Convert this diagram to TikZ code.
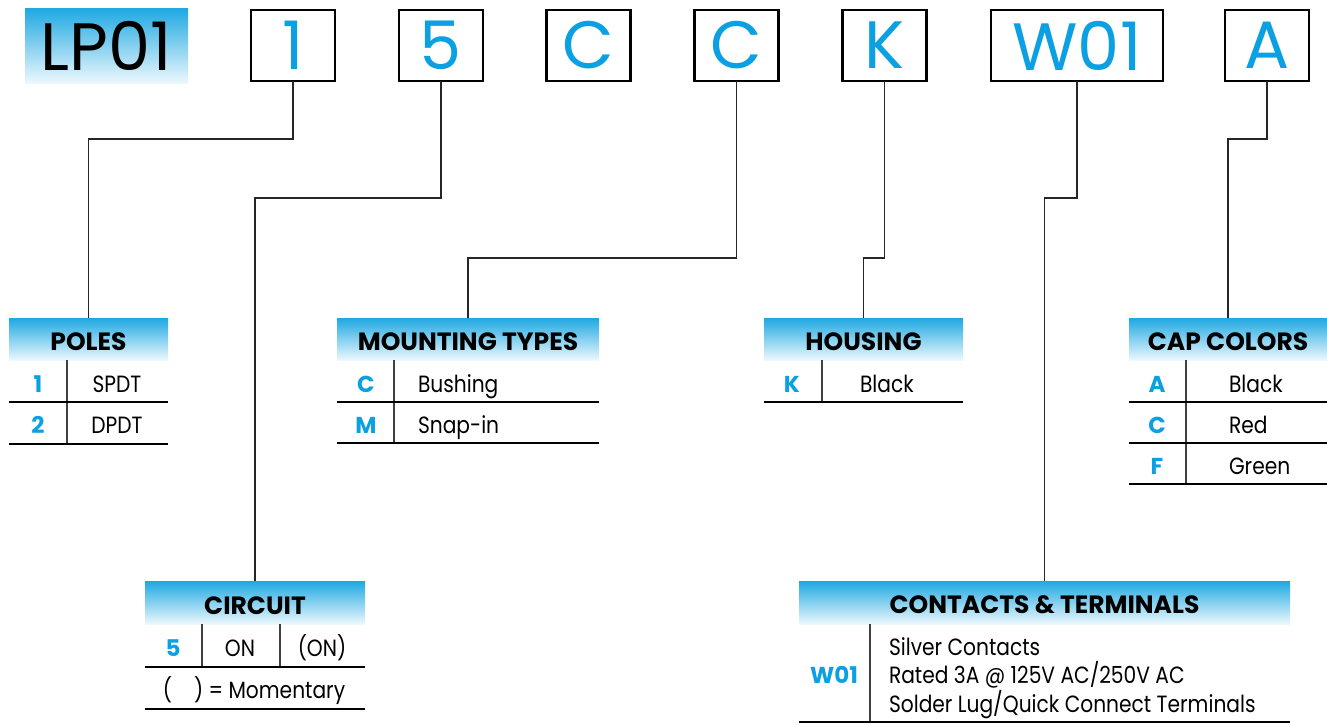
\documentclass[tikz,border=0pt]{standalone}
\usepackage{fontspec}
\setmainfont{Poppins}[FakeStretch=0.86,BoldFeatures={FakeStretch=1.0}]
\newfontfamily\bigfont{Poppins}
\usetikzlibrary{positioning}
\definecolor{pnblue}{RGB}{10,160,225}
\definecolor{hdtop}{RGB}{30,168,226}
\definecolor{hdbot}{RGB}{236,248,253}

\begin{document}
\begin{tikzpicture}
[x=1pt,y=-1pt,
 every node/.style={inner sep=0pt,outer sep=0pt},
 lead/.style={top color=hdtop,bottom color=hdbot,minimum width=163pt,minimum height=75pt,font=\bigfont\fontsize{67}{67}\selectfont},
 part/.style={draw=black,line width=2.5pt,minimum width=84pt,minimum height=71pt,text=pnblue,font=\bigfont\fontsize{67}{67}\selectfont},
 hdr/.style={top color=hdtop,bottom color=hdbot,minimum height=42pt,font=\fontsize{25}{25}\selectfont\bfseries},
 hdrtext/.style={anchor=base,font=\fontsize{25}{25}\selectfont\bfseries},
 code/.style={anchor=base,text=pnblue,font=\fontsize{23}{23}\selectfont\bfseries},
 val/.style={anchor=base,font=\fontsize{23.5}{23.5}\selectfont},
 lval/.style={val,anchor=base west},
 conn/.style={draw=black!85,line width=1.3pt},
 rule/.style={line width=1.5pt},
 sep/.style={line width=1.5pt,black!75}]
\useasboundingbox (0,0) rectangle (1327,724);

% part number boxes
\node[lead] (lp)  at (106.5,45.5) {LP01};
\node[part] (p1)  at (293,45.5)   {1};
\node[part] (p5)  at (441,45.5)   {5};
\node[part] (pC1) at (588.5,45.5) {C};
\node[part] (pC2) at (736.5,45.5) {C};
\node[part] (pK)  at (884.5,45.5) {K};
\node[part,minimum width=172pt] (pW) at (1077,45.5) {W01};
\node[part] (pA)  at (1267,45.5)  {A};

% table headers
\node[hdr,minimum width=159pt] (hPoles) at (88.5,339)  {};
\node[hdr,minimum width=262pt] (hMount) at (468,339)   {};
\node[hdr,minimum width=199pt] (hHous)  at (863.5,339) {};
\node[hdr,minimum width=198pt] (hCap)   at (1228,339)  {};
\node[hdr,minimum width=220pt,minimum height=43pt] (hCirc) at (255,602.5)    {};
\node[hdr,minimum width=491pt,minimum height=43pt] (hCont) at (1044.5,602.5) {};
\node[hdrtext] (tPoles) at (88.5,350)   {POLES};
\node[hdrtext] (tMount) at (468,350)    {MOUNTING TYPES};
\node[hdrtext] (tHous)  at (863.5,350)  {HOUSING};
\node[hdrtext] (tCap)   at (1228,350)   {CAP COLORS};
\node[hdrtext] (tCirc)  at (255,614)    {CIRCUIT};
\node[hdrtext] (tCont)  at (1044.5,613) {CONTACTS \& TERMINALS};

% leaders
\draw[conn] (p1.south)  -- ++(0,58)  -| (hPoles.north);
\draw[conn] (p5.south)  -- ++(0,117) -| (hCirc.north);
\draw[conn] (pC2.south) -- ++(0,177) -| (hMount.north);
\draw[conn] (pK.south)  -- ++(0,177) -| (hHous.north);
\draw[conn] (pW.south)  -- ++(0,117) -| (hCont.north);
\draw[conn] (pA.south)  -- ++(0,58)  -| (hCap.north);

% poles
\node[code] (c1) at (38,392)  {1};
\node[val]  (v1) at (117,392) {SPDT};
\node[code] (c2) at (38,433)  {2};
\node[val]  (v2) at (117,433) {DPDT};
\draw[sep]  (67,360) -- (67,444);
\draw[rule] (9,402) -- (168,402) (9,444) -- (168,444);

% mounting types
\node[code] (cC) at (366,392)  {C};
\node[lval] (vC) at (418,392)  {Bushing};
\node[code] (cM) at (366,433)  {M};
\node[lval] (vM) at (418,433)  {Snap-in};
\draw[sep]  (394,360) -- (394,443);
\draw[rule] (337,402) -- (599,402) (337,443) -- (599,443);

% housing
\node[code] (cK) at (792,392)  {K};
\node[lval] (vK) at (860,392)  {Black};
\draw[sep]  (822,360) -- (822,402);
\draw[rule] (764,402) -- (963,402);

% cap colors
\node[code] (cA)  at (1157,392) {A};
\node[lval] (vA)  at (1229,392) {Black};
\node[code] (cCr) at (1157,433) {C};
\node[lval] (vCr) at (1229,433) {Red};
\node[code] (cF)  at (1157,474) {F};
\node[lval] (vF)  at (1229,474) {Green};
\draw[sep]  (1186,360) -- (1186,484);
\draw[rule] (1129,402) -- (1327,402) (1129,443) -- (1327,443) (1129,484) -- (1327,484);

% circuit
\node[code] (c5)  at (173,656) {5};
\node[val]  (vOn) at (240,656) {ON};
\node[val]  (vMo) at (322,656) {(ON)};
\node[val]  (vNote) at (254,698) {(\hspace{22pt}) = Momentary};
\draw[sep]  (202,624) -- (202,667) (280,624) -- (280,667);
\draw[rule] (145,667) -- (365,667) (145,709) -- (365,709);

% contacts and terminals
\node[code] (cW)  at (834,683) {W01};
\node[lval] (vW1) at (889,655) {Silver Contacts};
\node[lval] (vW2) at (889,683) {Rated 3A @ 125V AC/250V AC};
\node[lval] (vW3) at (889,712) {Solder Lug/Quick Connect Terminals};
\draw[sep]  (870,624) -- (870,722);
\draw[rule] (799,722) -- (1290,722);
\end{tikzpicture}
\end{document}
